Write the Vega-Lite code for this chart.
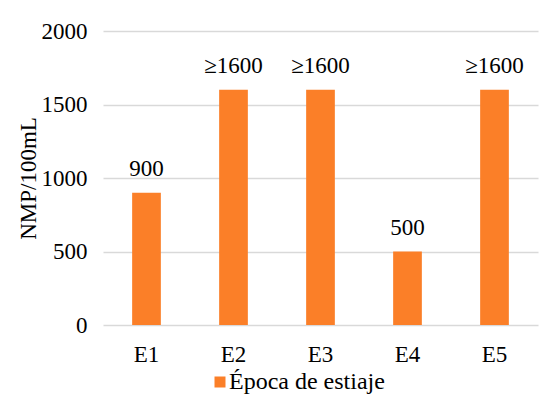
{
  "$schema": "https://vega.github.io/schema/vega-lite/v6.json",
  "autosize": {"type": "none"},
  "width": 435,
  "height": 294,
  "padding": {"left": 103, "top": 31, "right": 14, "bottom": 69},
  "background": "white",
  "config": {
    "font": "Times New Roman, Liberation Serif, serif",
    "view": {"stroke": null},
    "axis": {"labelColor": "#000000", "titleColor": "#000000"}
  },
  "data": {
    "values": [
      {"sitio": "E1", "nmp": 900, "etiqueta": "900", "serie": "Época de estiaje"},
      {"sitio": "E2", "nmp": 1600, "etiqueta": "≥1600", "serie": "Época de estiaje"},
      {"sitio": "E3", "nmp": 1600, "etiqueta": "≥1600", "serie": "Época de estiaje"},
      {"sitio": "E4", "nmp": 500, "etiqueta": "500", "serie": "Época de estiaje"},
      {"sitio": "E5", "nmp": 1600, "etiqueta": "≥1600", "serie": "Época de estiaje"}
    ]
  },
  "encoding": {
    "x": {
      "field": "sitio", "type": "nominal",
      "scale": {"paddingInner": 0.67, "paddingOuter": 0.335},
      "axis": {"title": null, "labelAngle": 0, "ticks": false, "domain": false, "labelFontSize": 23, "labelPadding": 18}
    },
    "y": {
      "field": "nmp", "type": "quantitative",
      "scale": {"domain": [0, 2000]},
      "axis": {"title": "NMP/100mL", "format": "d", "values": [0, 500, 1000, 1500, 2000], "ticks": false, "domain": false, "grid": true, "gridColor": "#d9d9d9", "gridWidth": 1.5, "labelFontSize": 23, "labelPadding": 16, "titleFontSize": 23, "titleFontWeight": "normal", "titlePadding": 1}
    }
  },
  "layer": [
    {
      "mark": {"type": "bar", "color": "#FB7F28"},
      "encoding": {
        "color": {
          "field": "serie", "type": "nominal",
          "scale": {"range": ["#FB7F28"]},
          "legend": {"title": null, "orient": "none", "legendX": 105, "legendY": 339, "symbolType": "square", "symbolSize": 121, "symbolStrokeWidth": 0, "labelFontSize": 24, "labelColor": "#000000", "symbolOffset": 0, "labelOffset": -3}
        }
      }
    },
    {
      "mark": {"type": "text", "baseline": "alphabetic", "dy": -17, "fontSize": 23, "color": "#000000"},
      "encoding": {"text": {"field": "etiqueta"}}
    }
  ]
}
